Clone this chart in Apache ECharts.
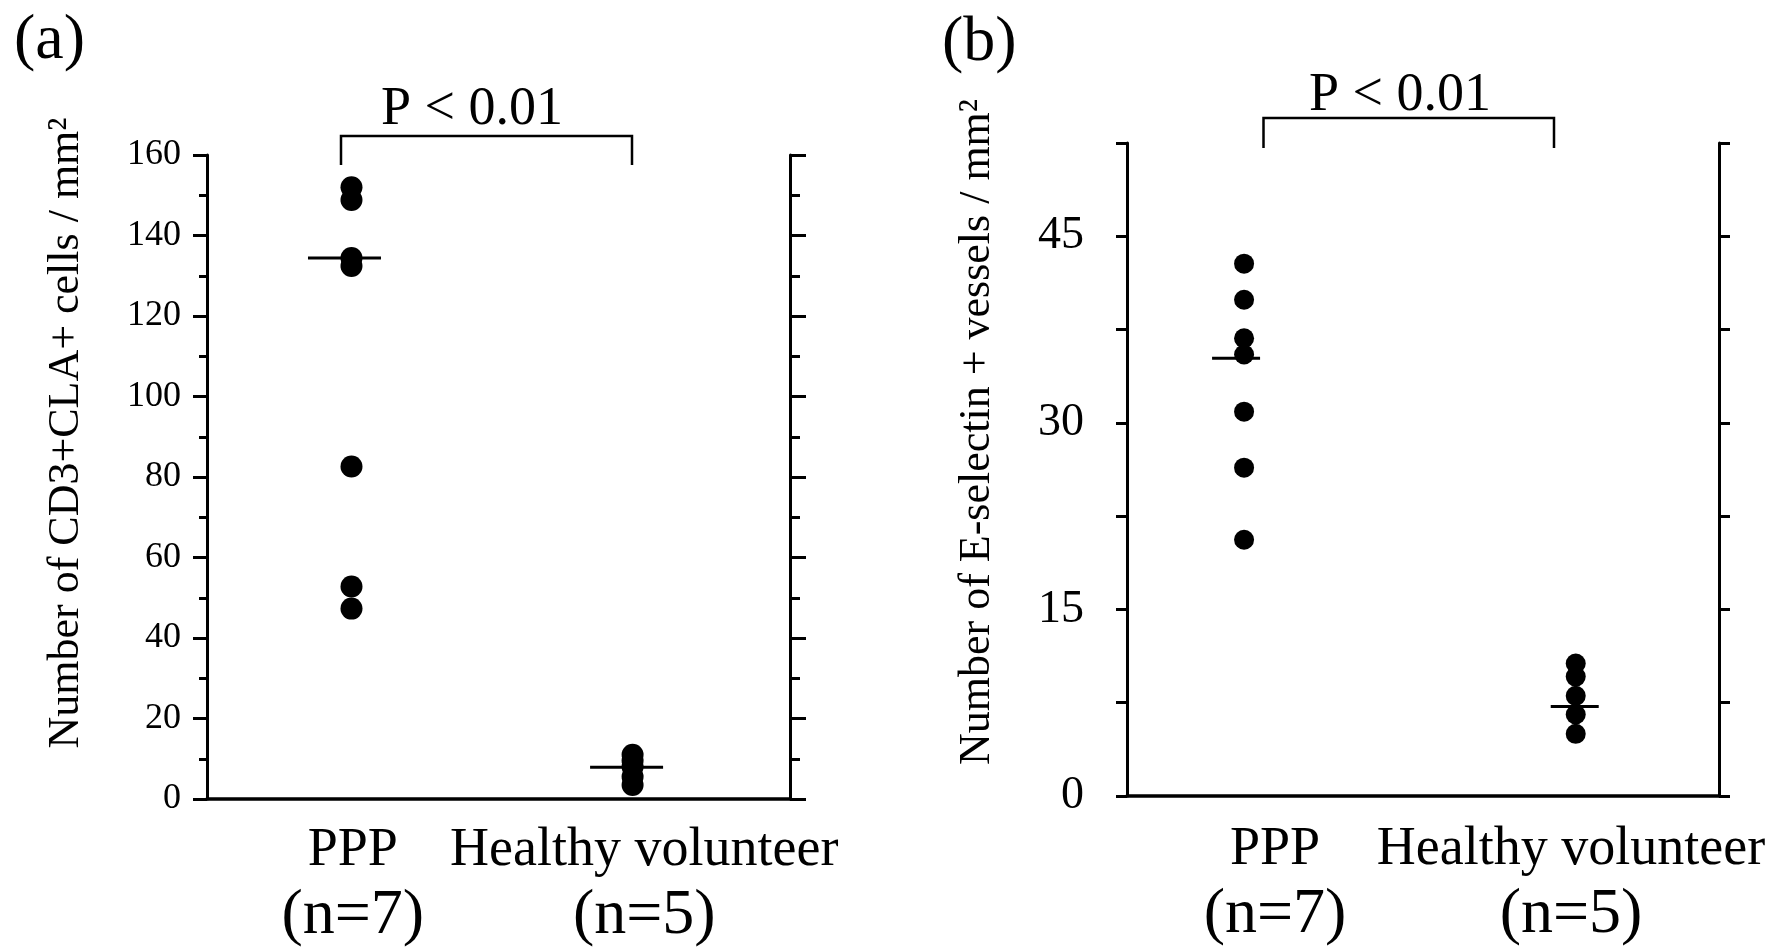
<!DOCTYPE html>
<html>
<head>
<meta charset="utf-8">
<title>CD3+CLA+ cells and E-selectin+ vessels</title>
<script src="https://cdn.jsdelivr.net/npm/echarts@6.0.0/dist/echarts.min.js"></script>
<style>
  html, body { margin: 0; padding: 0; background: #fff; }
  #chart { width: 1787px; height: 948px; }
</style>
</head>
<body>
<div id="chart"></div>
<script>
// groups on the x axis
const groups = ['PPP', 'Healthy volunteer'];
const groupN = ['(n=7)', '(n=5)'];

// (a) number of CD3+CLA+ cells / mm2
const cd3Ppp = [152, 148.8, 134.4, 132.4, 82.6, 52.8, 47.3];
const cd3Healthy = [11, 9.5, 8, 5.5, 3.5];
const cd3Median = [134.4, 7.9];
const cd3Range = [0, 160];
const cd3Step = 20;

// (b) number of E-selectin + vessels / mm2
const eselPpp = [42.8, 39.9, 36.8, 35.5, 30.9, 26.4, 20.6];
const eselHealthy = [10.65, 9.6, 8.05, 6.55, 5.0];
const eselMedian = [35.2, 7.2];
const eselRange = [0, 52.5];
const eselStep = 7.5;
const eselLabelStep = 15;

const FONT = '"Liberation Serif", "Times New Roman", serif';
const BLACK = '#000';

function groupAxis(gridIndex, margin) {
  return {
    type: 'category',
    gridIndex: gridIndex,
    data: groups,
    boundaryGap: true,
    axisLine: { onZero: false, lineStyle: { color: BLACK, width: 3.5 } },
    axisTick: { show: false },
    axisLabel: {
      interval: 0,
      margin: margin,
      color: BLACK,
      formatter: function (v, i) {
        return '{g|' + v + '}\n{n|' + groupN[i] + '}';
      },
      rich: {
        g: { fontFamily: FONT, fontSize: 54, lineHeight: 60, color: BLACK },
        n: { fontFamily: FONT, fontSize: 64, lineHeight: 70, color: BLACK }
      }
    }
  };
}

function valueYAxis(gridIndex, pos, range, step, o) {
  return {
    type: 'value',
    gridIndex: gridIndex,
    position: pos,
    min: range[0],
    max: range[1],
    interval: step,
    axisLine: { show: true, onZero: false, lineStyle: { color: BLACK, width: 3 } },
    axisTick: { show: true, length: o.tick, lineStyle: { color: BLACK, width: 3 } },
    minorTick: { show: !!o.minor, splitNumber: 2, length: o.minor || 0, lineStyle: { color: BLACK, width: 3 } },
    splitLine: { show: false },
    minorSplitLine: { show: false },
    axisLabel: o.label ? {
      show: true,
      margin: o.margin,
      color: BLACK,
      fontFamily: FONT,
      fontSize: o.fontSize,
      padding: [8, 0, 0, 0],
      formatter: o.formatter
    } : { show: false }
  };
}

function dots(xIdx, yIdx, x, values, size) {
  return {
    type: 'scatter',
    xAxisIndex: xIdx,
    yAxisIndex: yIdx,
    silent: true,
    symbol: 'circle',
    symbolSize: size,
    itemStyle: { color: BLACK, opacity: 1 },
    data: values.map(v => [x, v])
  };
}

function medianBars(xIdx, yIdx, values, width, offsets) {
  return {
    type: 'scatter',
    xAxisIndex: xIdx,
    yAxisIndex: yIdx,
    silent: true,
    z: 3,
    symbol: 'rect',
    symbolSize: [width, 3],
    itemStyle: { color: BLACK, opacity: 1 },
    data: values.map((v, i) => ({ value: [i + 1, v], symbolOffset: [offsets[i], 0] }))
  };
}

const chart = echarts.init(document.getElementById('chart'));

chart.setOption({
  animation: false,
  backgroundColor: '#fff',
  grid: [
    { left: 207, top: 155, width: 583, height: 645 },
    { left: 1127, top: 143, width: 592, height: 653 }
  ],
  xAxis: [
    groupAxis(0, 22),
    { type: 'value', gridIndex: 0, min: 0.486, max: 2.56, show: false },
    groupAxis(1, 24),
    { type: 'value', gridIndex: 1, min: 0.647, max: 2.432, show: false }
  ],
  yAxis: [
    valueYAxis(0, 'left', cd3Range, cd3Step, { tick: 14, minor: 8, label: true, margin: 26, fontSize: 36 }),
    valueYAxis(0, 'right', cd3Range, cd3Step, { tick: 16, minor: 10 }),
    valueYAxis(1, 'left', eselRange, eselStep, {
      tick: 11, label: true, margin: 43, fontSize: 46,
      formatter: v => (v % eselLabelStep === 0 ? String(v) : '')
    }),
    valueYAxis(1, 'right', eselRange, eselStep, { tick: 11 })
  ],
  series: [
    dots(1, 0, 1, cd3Ppp, 22),
    dots(1, 0, 2, cd3Healthy, 22),
    medianBars(1, 0, cd3Median, 73, [-7, -6]),
    dots(3, 2, 1, eselPpp, 20),
    dots(3, 2, 2, eselHealthy, 20),
    medianBars(3, 2, eselMedian, 48, [-8, -1])
  ],
  graphic: [
    { type: 'text', x: 14, y: 41, style: { text: '(a)', fontFamily: FONT, fontSize: 64, fill: BLACK, align: 'left', verticalAlign: 'middle' } },
    { type: 'text', x: 942, y: 43, style: { text: '(b)', fontFamily: FONT, fontSize: 64, fill: BLACK, align: 'left', verticalAlign: 'middle' } },
    { type: 'text', x: 472, y: 110, style: { text: 'P < 0.01', fontFamily: FONT, fontSize: 54, fill: BLACK, align: 'center', verticalAlign: 'middle' } },
    { type: 'text', x: 1400, y: 96, style: { text: 'P < 0.01', fontFamily: FONT, fontSize: 54, fill: BLACK, align: 'center', verticalAlign: 'middle' } },
    { type: 'text', x: 66, y: 433, rotation: Math.PI / 2, style: { text: 'Number of CD3+CLA+ cells / mm²', fontFamily: FONT, fontSize: 44, fill: BLACK, align: 'center', verticalAlign: 'middle' } },
    { type: 'text', x: 977, y: 432, rotation: Math.PI / 2, style: { text: 'Number of E-selectin + vessels / mm²', fontFamily: FONT, fontSize: 44, fill: BLACK, align: 'center', verticalAlign: 'middle' } },
    { type: 'polyline', shape: { points: [[341, 165], [341, 136], [632, 136], [632, 165]] }, style: { stroke: BLACK, lineWidth: 2.5, fill: null } },
    { type: 'polyline', shape: { points: [[1263.5, 148], [1263.5, 118], [1554, 118], [1554, 148]] }, style: { stroke: BLACK, lineWidth: 2.5, fill: null } }
  ]
});
</script>
</body>
</html>
